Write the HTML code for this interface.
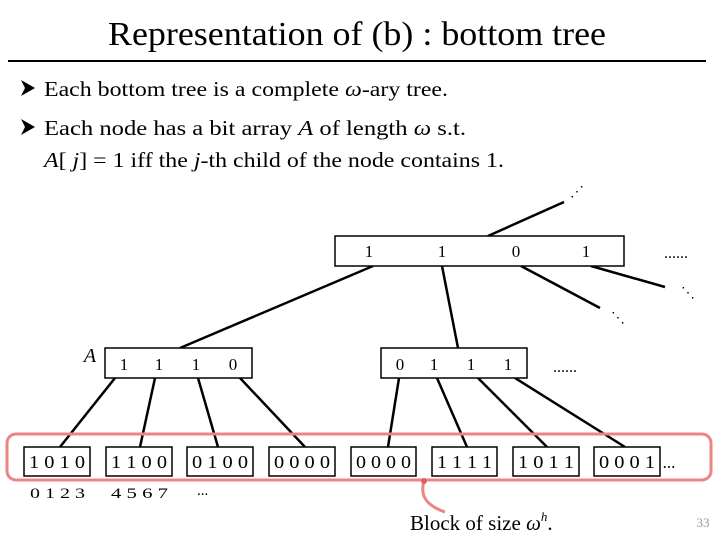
<!DOCTYPE html>
<html><head><meta charset="utf-8"><style>
body{margin:0;width:720px;height:540px;background:#fff;overflow:hidden;font-family:"Liberation Serif",serif;}
</style></head><body>
<svg width="720" height="540" viewBox="0 0 720 540" xmlns="http://www.w3.org/2000/svg" font-family="Liberation Serif, serif">
<text x="108" y="45" font-size="34" textLength="498" lengthAdjust="spacingAndGlyphs">Representation of (b) : bottom tree</text>
<line x1="8" y1="61" x2="706" y2="61" stroke="#000" stroke-width="2"/>
<path d="M21 80 L35 88 L21 96 L25 88 Z" fill="#000"/>
<text x="44" y="96" font-size="21" textLength="404" lengthAdjust="spacingAndGlyphs">Each bottom tree is a complete <tspan font-style="italic">ω</tspan>-ary tree.</text>
<path d="M21 119 L35 127 L21 135 L25 127 Z" fill="#000"/>
<text x="44" y="135" font-size="21" textLength="422" lengthAdjust="spacingAndGlyphs">Each node has a bit array <tspan font-style="italic">A</tspan> of length <tspan font-style="italic">ω</tspan> s.t.</text>
<text x="44" y="167" font-size="21" textLength="460" lengthAdjust="spacingAndGlyphs"><tspan font-style="italic">A</tspan>[ <tspan font-style="italic">j</tspan>] = 1 iff the <tspan font-style="italic">j</tspan>-th child of the node contains 1.</text>
<g stroke="#000" stroke-width="2.5">
<line x1="488" y1="236" x2="564" y2="202"/>
<line x1="373" y1="266" x2="180" y2="348"/>
<line x1="442" y1="266" x2="458" y2="348"/>
<line x1="521" y1="266" x2="600" y2="308"/>
<line x1="591" y1="266" x2="665" y2="287"/>
<line x1="115" y1="378" x2="60" y2="447"/>
<line x1="155" y1="378" x2="140" y2="447"/>
<line x1="198" y1="378" x2="218" y2="447"/>
<line x1="240" y1="378" x2="305" y2="447"/>
<line x1="399" y1="378" x2="388" y2="447"/>
<line x1="437" y1="378" x2="467" y2="447"/>
<line x1="478" y1="378" x2="547" y2="447"/>
<line x1="515" y1="378" x2="625" y2="447"/>
</g>
<g fill="#fff" stroke="#000" stroke-width="1.5">
<rect x="335" y="236" width="289" height="30"/>
<rect x="105" y="348" width="147" height="30"/>
<rect x="381" y="348" width="146" height="30"/>
</g>
<g font-size="17" text-anchor="middle">
<text x="369" y="257">1</text><text x="442" y="257">1</text><text x="516" y="257">0</text><text x="586" y="257">1</text>
<text x="124" y="370">1</text><text x="159" y="370">1</text><text x="196" y="370">1</text><text x="233" y="370">0</text>
<text x="400" y="370">0</text><text x="434" y="370">1</text><text x="471" y="370">1</text><text x="508" y="370">1</text>
</g>
<text x="676" y="258" font-size="16" text-anchor="middle">......</text>
<text x="565" y="372" font-size="16" text-anchor="middle">......</text>
<text x="577" y="196" font-size="14" text-anchor="middle">⋰</text>
<text x="688" y="297" font-size="14" text-anchor="middle">⋱</text>
<text x="618" y="322" font-size="14" text-anchor="middle">⋱</text>
<text x="90" y="362" font-size="20" font-style="italic" text-anchor="middle">A</text>
<rect x="7" y="434" width="704" height="46" rx="9" fill="none" stroke="#ec8484" stroke-width="3"/>
<path d="M424 481 C420 495,425 505,445 512" fill="none" stroke="#ec8484" stroke-width="3"/>
<circle cx="424" cy="481" r="3" fill="#e06060"/>
<g fill="#fff" stroke="#000" stroke-width="1.5">
<rect x="24" y="447" width="66" height="29"/><rect x="106" y="447" width="66" height="29"/>
<rect x="187" y="447" width="66" height="29"/><rect x="269" y="447" width="66" height="29"/>
<rect x="351" y="447" width="65" height="29"/><rect x="432" y="447" width="65" height="29"/>
<rect x="513" y="447" width="66" height="29"/><rect x="594" y="447" width="66" height="29"/>
</g>
<g font-size="18">
<text x="29" y="468" textLength="56" lengthAdjust="spacingAndGlyphs">1 0 1 0</text>
<text x="111" y="468" textLength="56" lengthAdjust="spacingAndGlyphs">1 1 0 0</text>
<text x="192" y="468" textLength="56" lengthAdjust="spacingAndGlyphs">0 1 0 0</text>
<text x="274" y="468" textLength="56" lengthAdjust="spacingAndGlyphs">0 0 0 0</text>
<text x="356" y="468" textLength="55" lengthAdjust="spacingAndGlyphs">0 0 0 0</text>
<text x="437" y="468" textLength="55" lengthAdjust="spacingAndGlyphs">1 1 1 1</text>
<text x="518" y="468" textLength="56" lengthAdjust="spacingAndGlyphs">1 0 1 1</text>
<text x="599" y="468" textLength="56" lengthAdjust="spacingAndGlyphs">0 0 0 1</text>
</g>
<text x="669" y="468" font-size="17" text-anchor="middle">...</text>
<g font-size="15">
<text x="30" y="498" textLength="55" lengthAdjust="spacingAndGlyphs">0 1 2 3</text>
<text x="111" y="498" textLength="57" lengthAdjust="spacingAndGlyphs">4 5 6 7</text>
<text x="197" y="495">...</text>
</g>
<text x="410" y="530" font-size="21">Block of size <tspan font-style="italic">ω</tspan><tspan font-size="13" dy="-9" font-style="italic">h</tspan><tspan dy="9">.</tspan></text>
<text x="703" y="527" font-size="13" fill="#999" text-anchor="middle">33</text>
</svg>
</body></html>
